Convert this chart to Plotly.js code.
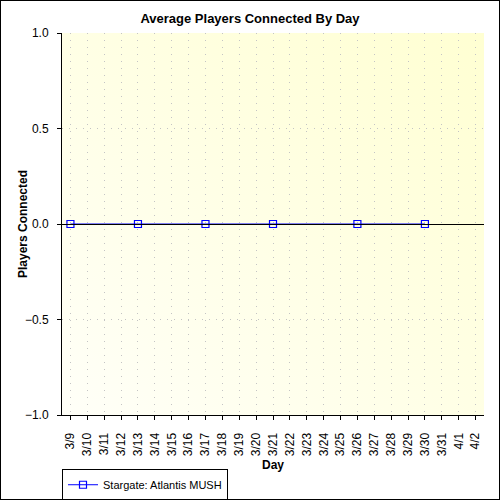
<!DOCTYPE html>
<html>
<head>
<meta charset="utf-8">
<script src="https://cdn.plot.ly/plotly-3.0.1.min.js"></script>
<style>
  html, body { margin: 0; padding: 0; background: #fff; }
  #wrap { position: relative; width: 500px; height: 500px; }
  #chart { width: 500px; height: 500px; }
  #frame { position: absolute; left: 0; top: 0; width: 498px; height: 498px; border: 1px solid #000; pointer-events: none; }
</style>
</head>
<body>
<div id="wrap"><div id="chart"></div><div id="frame"></div></div>
<script>
// Data
const days = ["3/9","3/10","3/11","3/12","3/13","3/14","3/15","3/16","3/17","3/18","3/19","3/20","3/21","3/22","3/23","3/24","3/25","3/26","3/27","3/28","3/29","3/30","3/31","4/1","4/2"];
const sampleDays = ["3/9","3/13","3/17","3/21","3/26","3/30"];
const players = [0, 0, 0, 0, 0, 0];
const seriesName = "Stargate: Atlantis MUSH";

const bgSvg = '<svg xmlns="http://www.w3.org/2000/svg" width="100" height="100" preserveAspectRatio="none">' +
  '<defs><linearGradient id="g" x1="0" y1="1" x2="1" y2="0">' +
  '<stop offset="0" stop-color="#FFFFF8"/><stop offset="1" stop-color="#FFFFD2"/></linearGradient></defs>' +
  '<rect width="100" height="100" fill="url(#g)"/></svg>';
const bgUri = 'data:image/svg+xml;base64,' + btoa(bgSvg);

const font = "Liberation Sans, Arial, sans-serif";
const gridDash = "1px,6px";
const gridColor = "#C4C4C4";

const trace = {
  type: "scatter",
  mode: "lines+markers",
  x: sampleDays,
  y: players,
  name: seriesName,
  connectgaps: true,
  line: { color: "#0000FF", width: 1 },
  marker: { symbol: "square-open", size: 7, color: "#0000FF", line: { color: "#0000FF", width: 1.2 } }
};

const layout = {
  width: 500, height: 500,
  margin: { l: 62, r: 16, t: 33, b: 85, autoexpand: false },
  paper_bgcolor: "#FFFFFF",
  plot_bgcolor: "rgba(0,0,0,0)",
  font: { family: font, size: 12, color: "#000" },
  title: { text: "<b>Average Players Connected By Day</b>", font: { family: font, size: 13, color: "#000" }, x: 0.5, xanchor: "center", y: 0.964, yanchor: "middle" },
  showlegend: true,
  legend: {
    x: 0, xanchor: "left",
    y: -0.142, yanchor: "top",
    bordercolor: "#000", borderwidth: 1, bgcolor: "#FFFFFF",
    font: { family: font, size: 11, color: "#000" },
    itemwidth: 30, tracegroupgap: 0
  },
  xaxis: {
    type: "category",
    categoryorder: "array",
    categoryarray: days,
    tickvals: days,
    range: [-0.5, days.length - 0.5],
    automargin: false,
    showline: true, linecolor: "#000", linewidth: 1,
    ticks: "outside", ticklen: 4, tickcolor: "#000", tickwidth: 1,
    tickangle: -90,
    ticklabelstandoff: 8,
    tickfont: { family: font, size: 12, color: "#000" },
    showgrid: true, gridcolor: gridColor, griddash: gridDash, gridwidth: 1,
    zeroline: false,
    title: { text: "<b>Day</b>", font: { family: font, size: 12, color: "#000" } },
    layer: "above traces"
  },
  xaxis2: {
    overlaying: "x", anchor: "y", side: "bottom",
    type: "linear", range: [-0.5, days.length - 0.5],
    tick0: 0, dtick: 1, automargin: false,
    showline: true, linecolor: "#000", linewidth: 1,
    ticks: "inside", ticklen: 4, tickcolor: "#000",
    mirror: "ticks",
    showticklabels: false, showgrid: false, zeroline: false
  },
  yaxis: {
    range: [-1, 1],
    tick0: 0, dtick: 0.5,
    tickformat: ".1f",
    automargin: false,
    showline: true, linecolor: "#000", linewidth: 1,
    ticks: "outside", ticklen: 4, tickcolor: "#000",
    ticklabelstandoff: 6,
    tickfont: { family: font, size: 12, color: "#000" },
    showgrid: true, gridcolor: gridColor, griddash: gridDash, gridwidth: 1,
    zeroline: true, zerolinecolor: "#000", zerolinewidth: 1,
    zerolinelayer: "above traces",
    title: { text: "<b>Players Connected</b>", font: { family: font, size: 12, color: "#000" } },
    layer: "above traces"
  },
  yaxis2: {
    overlaying: "y", anchor: "x", side: "left",
    range: [-1, 1], tick0: 0, dtick: 0.5, automargin: false,
    showline: true, linecolor: "#000", linewidth: 1,
    ticks: "inside", ticklen: 4, tickcolor: "#000",
    minor: { dtick: 0.1, ticks: "inside", ticklen: 4, tickcolor: "#000", showgrid: false },
    mirror: "ticks",
    showticklabels: false, showgrid: false, zeroline: false
  },
  images: [{
    source: bgUri, xref: "paper", yref: "paper",
    x: 0, y: 1, sizex: 1, sizey: 1, sizing: "stretch",
    xanchor: "left", yanchor: "top", layer: "below"
  }]
};

Plotly.newPlot("chart", [trace], layout, { displayModeBar: false, staticPlot: true });
</script>
</body>
</html>
